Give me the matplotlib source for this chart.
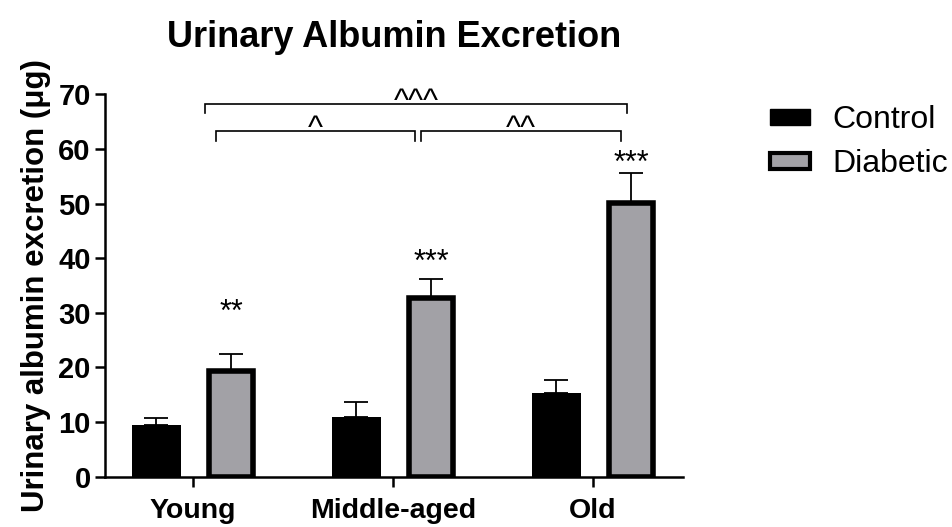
import numpy as np
import matplotlib
matplotlib.use("Agg")
import matplotlib.pyplot as plt
from matplotlib.patches import Patch

plt.rcParams["font.family"] = ["Liberation Sans", "DejaVu Sans"]

# data
groups = ["Young", "Middle-aged", "Old"]
control_mean = [9.5, 10.9, 15.3]
control_err = [1.3, 2.8, 2.4]
diabetic_mean = [19.4, 32.8, 50.1]
diabetic_err = [3.1, 3.4, 5.5]

# significance marks above diabetic bars
star_labels = ["**", "***", "***"]
star_y = [30.0, 39.2, 57.3]

# comparison brackets between diabetic groups
bracket_x1 = [0.06, 0.115, 1.14]
bracket_x2 = [2.17, 1.11, 2.14]
bracket_y = [68.3, 63.2, 63.2]
bracket_labels = ["^^^", "^", "^^"]

GRAY = "#a2a1a6"
x = np.arange(len(groups))
off_c, off_d = -0.185, 0.19

fig = plt.figure(figsize=(9.53, 5.27), dpi=100)
ax = fig.add_axes([0.1097, 0.0954, 0.607, 0.7256])

# Control bars
ax.bar(x + off_c, control_mean, width=0.245, color="black", edgecolor="black", linewidth=0, zorder=2)
ax.errorbar(x + off_c, control_mean, yerr=[np.zeros(3), control_err], fmt="none",
            ecolor="black", elinewidth=1.3, capsize=8.5, capthick=1.3, zorder=1)

# Diabetic bars (thick black outline)
ax.bar(x + off_d, diabetic_mean, width=0.222, color=GRAY, edgecolor="black", linewidth=4, zorder=2)
ax.errorbar(x + off_d, diabetic_mean, yerr=[np.zeros(3), diabetic_err], fmt="none",
            ecolor="black", elinewidth=1.3, capsize=8.5, capthick=1.3, zorder=1)

for xi, s, sy in zip(x + off_d, star_labels, star_y):
    ax.text(xi, sy, s, ha="center", va="center", fontsize=22)

# brackets, caret marks sit just above the bracket line
for x1, x2, by, lab in zip(bracket_x1, bracket_x2, bracket_y, bracket_labels):
    ax.plot([x1, x1, x2, x2], [by - 1.7, by, by, by - 1.7], color="black", lw=1.2,
            clip_on=False, solid_joinstyle="miter")
    ax.text((x1 + x2) / 2, by - 1.1, lab, ha="center", va="baseline", fontsize=23,
            clip_on=False)

ax.set_xlim(-0.4425, 2.45)
ax.set_ylim(0, 70)
ax.set_yticks(range(0, 71, 10))
ax.set_xticks(x)
ax.set_xticklabels(groups, fontsize=20.5, fontweight="bold")
for lbl in ax.get_yticklabels():
    lbl.set_fontsize(21)
    lbl.set_fontweight("bold")
ax.tick_params(axis="both", direction="out", length=7, width=1.8)
ax.tick_params(axis="y", pad=3)
ax.tick_params(axis="x", pad=8)

for side in ["top", "right"]:
    ax.spines[side].set_visible(False)
for side in ["left", "bottom"]:
    ax.spines[side].set_linewidth(1.8)

ax.set_ylabel("Urinary albumin excretion (μg)", fontsize=22.5, fontweight="bold", labelpad=5)
ax.set_title("Urinary Albumin Excretion", fontsize=26, fontweight="bold", pad=34)

handles = [
    Patch(facecolor="black", edgecolor="black", label="Control"),
    Patch(facecolor=GRAY, edgecolor="black", linewidth=3, label="Diabetic"),
]
fig.legend(handles=handles, loc="upper left", bbox_to_anchor=(770 / 953, 1 - 105 / 527),
           frameon=False, fontsize=23, handlelength=1.25, handleheight=0.4,
           handletextpad=0.7, labelspacing=0.45, borderpad=0, borderaxespad=0)

fig.savefig("out.png", dpi=100)
